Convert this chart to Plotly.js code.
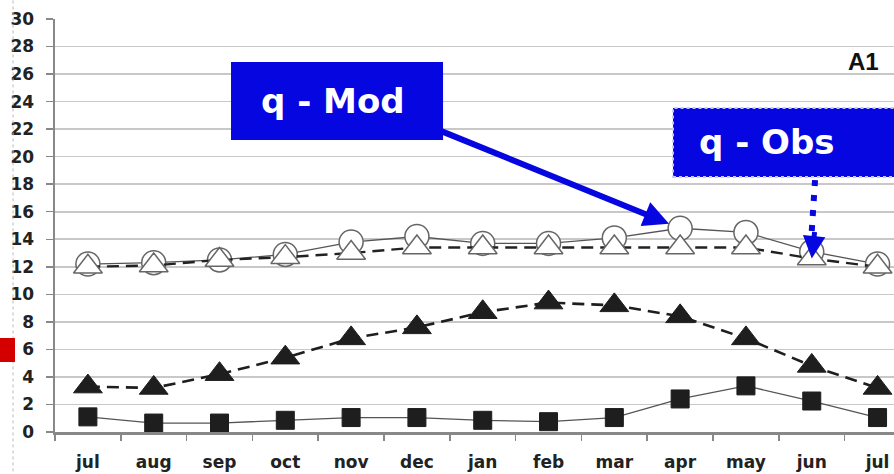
<!DOCTYPE html>
<html><head><meta charset="utf-8">
<script src="https://cdn.plot.ly/plotly-3.0.1.min.js"></script>
<style>html,body{margin:0;padding:0;background:#fff;}#chart{width:894px;height:474px;}</style>
</head><body><div id="chart"></div>
<script>
const months = ['jul','aug','sep','oct','nov','dec','jan','feb','mar','apr','may','jun','jul'];
const qModOpen  = [12.2,12.3,12.5,12.9,13.8,14.2,13.7,13.7,14.1,14.8,14.5,13.1,12.2];
const qObsOpen  = [12.0,12.1,12.5,12.7,13.0,13.4,13.4,13.4,13.4,13.4,13.4,12.6,12.0];
const filledTri = [3.3,3.2,4.2,5.4,6.8,7.6,8.7,9.4,9.2,8.4,6.8,4.8,3.2];
const squares   = [1.1,0.65,0.65,0.85,1.05,1.05,0.85,0.75,1.05,2.4,3.35,2.25,1.05];
const yTicks = [0,2,4,6,8,10,12,14,16,18,20,22,24,26,28,30];
const xIdx = months.map((m,i)=>i);

const blue = '#0606e0';
const traces = [
  {x:xIdx, y:squares, mode:'lines+markers', line:{color:'#555',width:1.3},
   marker:{symbol:'square', size:18, color:'#1e1e1e', line:{color:'#1e1e1e',width:1}}},
  {x:xIdx, y:filledTri, mode:'lines+markers', line:{color:'#1e1e1e',width:2.6,dash:'12px,7px'},
   marker:{symbol:'triangle-up', size:25, color:'#1e1e1e', line:{color:'#1e1e1e',width:1}}},
  {x:xIdx, y:qModOpen, mode:'lines+markers', line:{color:'#555',width:1.3},
   marker:{symbol:'circle', size:24, color:'#fff', line:{color:'#666',width:1.5}}},
  {x:xIdx, y:qObsOpen, mode:'lines+markers', line:{color:'#222',width:2.4,dash:'12px,7px'},
   marker:{symbol:'triangle-up', size:25, color:'#fff', line:{color:'#666',width:1.5}}}
];

const layout = {
  width:894, height:474,
  margin:{l:55, r:0, t:19, b:42},
  paper_bgcolor:'#fff', plot_bgcolor:'#fff',
  showlegend:false,
  xaxis:{range:[-0.5,12.25], tickmode:'array', tickvals:xIdx, ticktext:months, ticks:'',
    showgrid:false, zeroline:false, showline:true, linecolor:'#888', linewidth:2.5,
    tickfont:{family:'DejaVu Sans', size:17, weight:'bold', color:'#222'}, ticklabelstandoff:13,
    minor:{tickmode:'linear', tick0:0.5, dtick:1, ticks:'outside', ticklen:6, tickcolor:'#888', tickwidth:1.5, showgrid:false}},
  yaxis:{range:[0,30], tickmode:'array', tickvals:yTicks, ticks:'outside', ticklen:7, tickcolor:'#888', tickwidth:1.5,
    showgrid:true, gridcolor:'#c8c8c8', gridwidth:1.6, zeroline:false, showline:true, linecolor:'#888', linewidth:2.5,
    tickfont:{family:'DejaVu Sans', size:17, weight:'bold', color:'#222'}, ticklabelstandoff:8},
  shapes:[
    {type:'line', xref:'paper', yref:'paper', x0:-0.05, x1:-0.05, y0:-0.11, y1:1.05, line:{color:'#bbb', width:1, dash:'dot'}},
    {type:'rect', xref:'paper', yref:'paper', x0:-0.0656, x1:-0.0477, y0:0.1695, y1:0.2276, fillcolor:'#d40000', line:{width:0}},
    {type:'rect', xref:'paper', yref:'paper', x0:0.2098, x1:0.4625, y0:0.707, y1:0.8959, fillcolor:blue, line:{width:0}, layer:'above'},
    {type:'rect', xref:'paper', yref:'paper', x0:0.7366, x1:1.02, y0:0.6174, y1:0.7845, fillcolor:blue, line:{color:'#c8c8f0', width:2, dash:'dot'}, layer:'above'},
    {type:'line', xref:'x', yref:'y', x0:11.05, x1:11.0, y0:18.3, y1:14.6, line:{color:blue, width:6, dash:'6px,9px'}, layer:'above'}
  ],
  annotations:[
    {xref:'paper', yref:'paper', x:0.3313, y:0.8015, xanchor:'center', yanchor:'middle', showarrow:false,
     text:'q - Mod', font:{family:'DejaVu Sans', size:34, weight:'bold', color:'#fff'}},
    {xref:'paper', yref:'paper', x:0.8486, y:0.701, xanchor:'center', yanchor:'middle', showarrow:false,
     text:'q - Obs', font:{family:'DejaVu Sans', size:34, weight:'bold', color:'#fff'}},
    {xref:'paper', yref:'paper', x:0.9642, y:0.8959, xanchor:'center', yanchor:'middle', showarrow:false,
     text:'A1', font:{family:'Liberation Sans', size:24, weight:'bold', color:'#111'}},
    {xref:'x', yref:'y', x:9, y:qModOpen[9], ax:-241, ay:-98, text:'', showarrow:true,
     arrowhead:2, arrowsize:0.85, arrowwidth:6, arrowcolor:blue, standoff:12},
    {xref:'x', yref:'y', x:11, y:qObsOpen[11], ax:3, ay:-28, text:'', showarrow:true,
     arrowhead:2, arrowsize:0.9, arrowwidth:5, arrowcolor:blue, standoff:0}
  ]
};
Plotly.newPlot('chart', traces, layout, {staticPlot:true, displayModeBar:false});
</script>
</body></html>
